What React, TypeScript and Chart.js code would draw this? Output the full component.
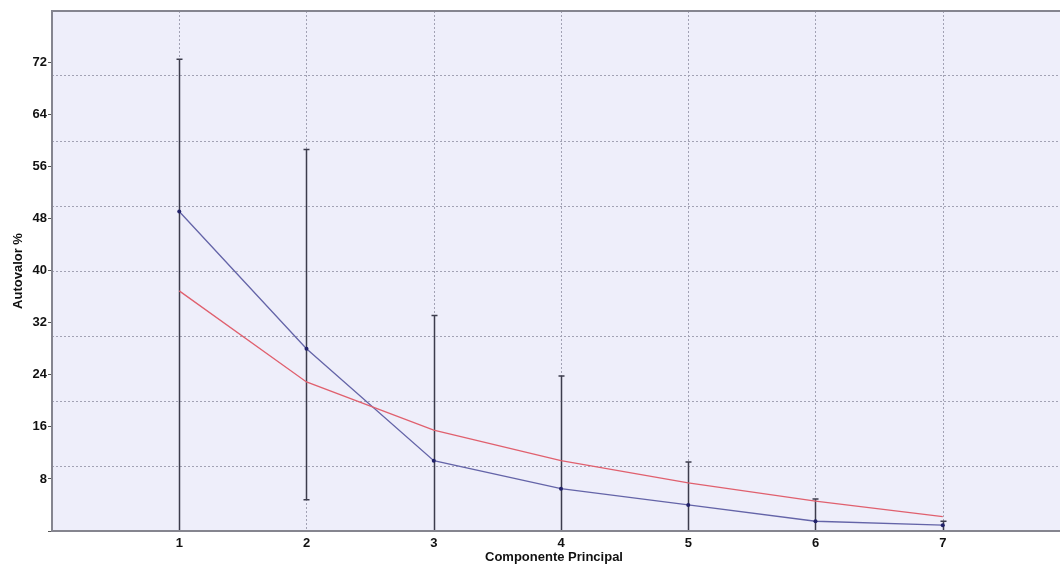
import React, { useEffect, useRef } from "react";
import { Chart, registerables } from "chart.js";

Chart.register(...registerables);

const components = [1, 2, 3, 4, 5, 6, 7];
const eigenPct = [49.1, 28.0, 10.8, 6.5, 4.0, 1.5, 0.9];
const brokenStick = [36.9, 22.9, 15.5, 10.8, 7.4, 4.6, 2.2];
const errHigh = [72.5, 58.6, 33.1, 23.8, 10.6, 4.9, 1.5];
const errLow = [0, 4.8, 0, 0, 0, 0, 0];
const yTickStep = 8;
const gridYValues = [10, 20, 30, 40, 50, 60, 70];
const gridXValues = [1, 2, 3, 4, 5, 6, 7, 8];

const framePlugin = {
  id: "frame",
  beforeDatasetsDraw(chart: any) {
    const { ctx, chartArea, scales } = chart;
    const { left, top, right, bottom } = chartArea;
    ctx.save();
    ctx.fillStyle = "#eeeefa";
    ctx.fillRect(left, top, right - left + 4, bottom - top);
    ctx.strokeStyle = "#a2a2b4";
    ctx.lineWidth = 1;
    ctx.setLineDash([2, 2]);
    gridYValues.forEach((v) => {
      const y = Math.round(scales.y.getPixelForValue(v)) + 0.5;
      ctx.beginPath();
      ctx.moveTo(left, y);
      ctx.lineTo(right + 4, y);
      ctx.stroke();
    });
    gridXValues.forEach((v) => {
      const x = Math.round(scales.x.getPixelForValue(v)) + 0.5;
      if (x > right) return;
      ctx.beginPath();
      ctx.moveTo(x, top);
      ctx.lineTo(x, bottom);
      ctx.stroke();
    });
    ctx.setLineDash([]);
    // error bars
    ctx.strokeStyle = "#3c3c4c";
    ctx.lineWidth = 1.5;
    components.forEach((c, i) => {
      const x = Math.round(scales.x.getPixelForValue(c)) + 0.5;
      const yh = scales.y.getPixelForValue(errHigh[i]);
      const yl = Math.min(scales.y.getPixelForValue(errLow[i]), bottom);
      ctx.beginPath();
      ctx.moveTo(x, yh);
      ctx.lineTo(x, yl);
      ctx.moveTo(x - 3, yh);
      ctx.lineTo(x + 3, yh);
      if (errLow[i] > 0) {
        ctx.moveTo(x - 3, yl);
        ctx.lineTo(x + 3, yl);
      }
      ctx.stroke();
    });
    ctx.restore();
  },
  afterDraw(chart: any) {
    const { ctx, chartArea } = chart;
    const { left, top, right, bottom } = chartArea;
    ctx.save();
    ctx.strokeStyle = "#85858f";
    ctx.lineWidth = 2;
    ctx.beginPath();
    ctx.moveTo(right + 6, top);
    ctx.lineTo(left, top);
    ctx.lineTo(left, bottom);
    ctx.lineTo(right + 6, bottom);
    ctx.stroke();
    ctx.restore();
  },
};

export default function App() {
  const ref = useRef<HTMLCanvasElement>(null);
  useEffect(() => {
    document.body.style.margin = "0";
    const font = { family: "'Liberation Sans', Arial, sans-serif", size: 13, weight: "bold" as const };
    const chart = new Chart(ref.current!, {
      type: "line",
      data: {
        datasets: [
          {
            label: "Broken stick",
            data: components.map((c, i) => ({ x: c, y: brokenStick[i] })),
            borderColor: "#e0606e",
            borderWidth: 1.3,
            pointRadius: 0,
            tension: 0,
          },
          {
            label: "Autovalor %",
            data: components.map((c, i) => ({ x: c, y: eigenPct[i] })),
            borderColor: "#6464a8",
            borderWidth: 1.3,
            pointRadius: 2,
            pointBackgroundColor: "#22226a",
            pointBorderColor: "#22226a",
            pointBorderWidth: 0,
            tension: 0,
          },
        ],
      },
      options: {
        animation: false,
        responsive: false,
        layout: { padding: { top: 11, right: 0, left: 0, bottom: 0 } },
        plugins: { legend: { display: false }, tooltip: { enabled: false } },
        scales: {
          x: {
            type: "linear",
            min: 0,
            max: 7.89,
            grid: { display: false, drawTicks: false },
            border: { display: false },
            ticks: {
              stepSize: 1,
              color: "#111",
              font,
              padding: 5,
              autoSkip: false,
              maxRotation: 0,
              includeBounds: false,
              callback: (v: any) => (v >= 1 && v <= 7 ? String(v) : ""),
            },
            title: {
              display: true,
              text: "Componente Principal",
              color: "#111",
              font,
              padding: { top: 0, bottom: 0 },
            },
            afterFit: (s: any) => {
              s.height = 34;
            },
          },
          y: {
            type: "linear",
            min: 0,
            max: 79.9,
            grid: { drawOnChartArea: false, drawTicks: true, tickLength: 4, color: "#555" },
            border: { display: false },
            ticks: {
              stepSize: yTickStep,
              color: "#111",
              font,
              padding: 1,
              includeBounds: false,
              callback: (v: any) => (v === 0 ? "" : String(v)),
            },
            title: {
              display: true,
              text: "Autovalor %",
              color: "#111",
              font,
              padding: { top: 11, bottom: 0 },
            },
            afterFit: (s: any) => {
              s.width = 52;
            },
          },
        },
      },
      plugins: [framePlugin],
    });
    return () => chart.destroy();
  }, []);
  return (
    <div style={{ width: 1060, height: 565, background: "#fff", overflow: "hidden" }}>
      <canvas ref={ref} width={1060} height={565} style={{ display: "block" }} />
    </div>
  );
}
